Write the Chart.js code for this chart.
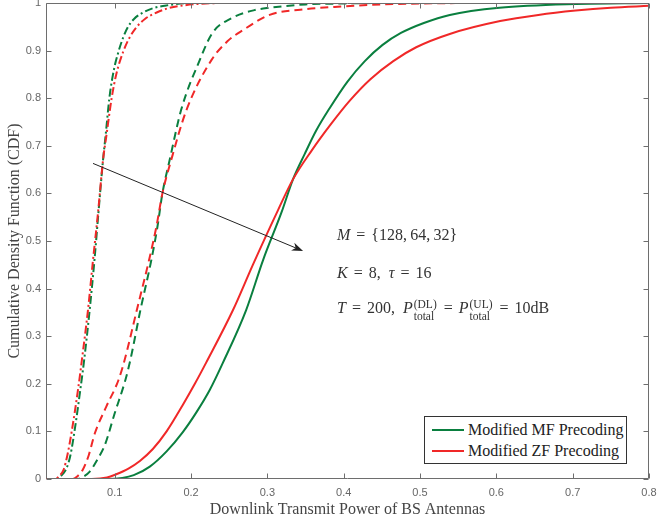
<!DOCTYPE html>
<html><head><meta charset="utf-8">
<script src="https://cdn.jsdelivr.net/npm/chart.js@4/dist/chart.umd.min.js"></script>
<style>
html,body{margin:0;padding:0;background:#fff;}
#wrap{position:relative;width:657px;height:522px;overflow:hidden;}
canvas{position:absolute;left:0;top:0;}
.note{position:absolute;font-family:'Liberation Serif',serif;font-size:16px;line-height:20px;height:20px;color:#333;white-space:nowrap;}
.note i{font-style:italic;}
.note .eq{margin:0 6px;}
.note .cm{margin-right:4px;}
.ss{display:inline-flex;flex-direction:column;vertical-align:5px;font-size:11.5px;line-height:12px;margin-left:1px;margin-right:1px;}
#lg{position:absolute;left:424px;top:416px;width:201px;height:46px;border:1px solid #333;background:#fff;font-family:'Liberation Serif',serif;font-size:16px;color:#222;}
#lg .row{position:absolute;left:0;height:20px;line-height:20px;white-space:nowrap;}
#lg .sw{position:absolute;left:7px;top:9px;width:32px;height:2px;}
#lg .tx{position:absolute;left:43px;top:0;}
</style></head><body>
<div id="wrap">
<canvas id="c" width="657" height="522"></canvas>
<div class="note" style="left:337px;top:225px"><i>M</i><span class="eq">=</span>{128,&thinsp;64,&thinsp;32}</div>
<div class="note" style="left:337px;top:263px"><i>K</i><span class="eq">=</span>8,<span class="cm"></span> <i>τ</i><span class="eq">=</span>16</div>
<div class="note" style="left:337px;top:298px"><i>T</i><span class="eq">=</span>200,<span class="cm"></span> <i>P</i><span class="ss"><span>(DL)</span><span>total</span></span><span class="eq">=</span><i>P</i><span class="ss"><span>(UL)</span><span>total</span></span><span class="eq">=</span>10dB</div>
<div id="lg">
  <div class="row" style="top:3px;width:200px"><div class="sw" style="background:#0a7f3f"></div><span class="tx">Modified MF Precoding</span></div>
  <div class="row" style="top:24px;width:200px"><div class="sw" style="background:#f02828"></div><span class="tx">Modified ZF Precoding</span></div>
</div>
</div>
<script>
// ---- tick values / labels ----
const xTicks = [0.1, 0.2, 0.3, 0.4, 0.5, 0.6, 0.7, 0.8];
const xTickLabels = ['0.1', '0.2', '0.3', '0.4', '0.5', '0.6', '0.7', '0.8'];
const yTicks = [0, 0.1, 0.2, 0.3, 0.4, 0.5, 0.6, 0.7, 0.8, 0.9, 1];
const yTickLabels = ['0', '0.1', '0.2', '0.3', '0.4', '0.5', '0.6', '0.7', '0.8', '0.9', '1'];

// ---- series (M = 128 dash-dot, 64 dashed, 32 solid) ----
const mf128X = [0.01, 0.024, 0.030, 0.037, 0.042, 0.0476, 0.0555, 0.060, 0.0672, 0.0735, 0.079, 0.0847, 0.088, 0.093, 0.099, 0.105, 0.111, 0.1175, 0.125, 0.137, 0.15, 0.168, 0.2, 0.3];
const mf128Y = [0, 0, 0.007, 0.023, 0.05, 0.103, 0.194, 0.25, 0.355, 0.46, 0.565, 0.67, 0.72, 0.80, 0.86, 0.898, 0.927, 0.95, 0.966, 0.98, 0.989, 0.995, 1, 1];
const zf128X = [0.01, 0.022, 0.027, 0.033, 0.038, 0.044, 0.0525, 0.057, 0.065, 0.0716, 0.0785, 0.0847, 0.089, 0.096, 0.102, 0.111, 0.119, 0.129, 0.14, 0.155, 0.17, 0.19, 0.25, 0.35];
const zf128Y = [0, 0, 0.006, 0.019, 0.05, 0.103, 0.194, 0.25, 0.355, 0.46, 0.565, 0.67, 0.72, 0.80, 0.85, 0.897, 0.926, 0.95, 0.967, 0.98, 0.989, 0.995, 1, 1];
const mf64X = [0.01, 0.05, 0.058, 0.067, 0.077, 0.087, 0.100, 0.114, 0.1205, 0.1337, 0.148, 0.156, 0.1625, 0.172, 0.187, 0.2114, 0.228, 0.253, 0.283, 0.303, 0.35, 0.40, 0.45, 0.55];
const mf64Y = [0, 0, 0.004, 0.015, 0.04, 0.071, 0.138, 0.208, 0.25, 0.355, 0.46, 0.53, 0.60, 0.67, 0.775, 0.88, 0.937, 0.968, 0.985, 0.99, 0.997, 0.999, 1, 1];
const zf64X = [0.01, 0.045, 0.052, 0.058, 0.066, 0.074, 0.089, 0.105, 0.113, 0.129, 0.145, 0.1546, 0.1625, 0.174, 0.194, 0.2267, 0.248, 0.268, 0.303, 0.343, 0.403, 0.45, 0.50, 0.56];
const zf64Y = [0, 0, 0.007, 0.019, 0.05, 0.096, 0.152, 0.208, 0.25, 0.355, 0.46, 0.53, 0.60, 0.67, 0.775, 0.88, 0.92, 0.943, 0.975, 0.986, 0.993, 0.997, 0.999, 1];
const mf32X = [0.01, 0.09, 0.11, 0.125, 0.146, 0.168, 0.189, 0.207, 0.2245, 0.242, 0.2722, 0.2944, 0.3185, 0.3337, 0.349, 0.364, 0.382, 0.405, 0.4277, 0.451, 0.475, 0.505, 0.539, 0.604, 0.704, 0.8];
const mf32Y = [0, 0, 0.002, 0.008, 0.026, 0.058, 0.098, 0.14, 0.187, 0.245, 0.355, 0.46, 0.56, 0.63, 0.683, 0.732, 0.78, 0.835, 0.878, 0.912, 0.937, 0.958, 0.975, 0.99, 0.998, 1];
const zf32X = [0.01, 0.07, 0.09, 0.102, 0.118, 0.133, 0.150, 0.168, 0.189, 0.205, 0.220, 0.255, 0.281, 0.314, 0.3337, 0.358, 0.383, 0.408, 0.435, 0.465, 0.495, 0.539, 0.605, 0.655, 0.704, 0.75, 0.8];
const zf32Y = [0, 0, 0.003, 0.01, 0.022, 0.038, 0.063, 0.1, 0.155, 0.2, 0.245, 0.355, 0.45, 0.565, 0.63, 0.69, 0.745, 0.795, 0.84, 0.878, 0.907, 0.935, 0.962, 0.975, 0.984, 0.99, 0.994];

// arrow annotation (data coordinates)
const arrowFrom = [0.0716, 0.663];
const arrowTo = [0.3468, 0.479];

const GREEN = '#0a7f3f', RED = '#f02828';
const DASH = [8, 5], DASHDOT = [8, 3, 2, 3];
const pts = (xs, ys) => xs.map((v, i) => ({x: v, y: ys[i]}));
const ds = (label, xs, ys, color, dash) => ({
  label, data: pts(xs, ys), borderColor: color, backgroundColor: color,
  borderWidth: 2, borderDash: dash, pointRadius: 0, showLine: true, fill: false,
  cubicInterpolationMode: 'monotone'
});

const frame = {
  id: 'frame',
  afterDatasetsDraw(chart) {
    const {ctx, chartArea: a, scales: {x, y}} = chart;
    ctx.save();
    ctx.strokeStyle = '#6e6e6e';
    ctx.lineWidth = 1;
    ctx.setLineDash([]);
    ctx.beginPath();
    const L = Math.round(a.left) + 0.5, R = Math.round(a.right) - 0.5, T = Math.round(a.top) + 0.5, B = Math.round(a.bottom) - 0.5;
    ctx.rect(L, T, R - L, B - T);
    xTicks.forEach(v => {
      const p = Math.round(x.getPixelForValue(v)) + 0.5;
      ctx.moveTo(p, B); ctx.lineTo(p, B - 5);
      ctx.moveTo(p, T); ctx.lineTo(p, T + 5);
    });
    yTicks.forEach(v => {
      const p = Math.round(y.getPixelForValue(v)) + 0.5;
      ctx.moveTo(L, p); ctx.lineTo(L + 5, p);
      ctx.moveTo(R, p); ctx.lineTo(R - 5, p);
    });
    ctx.stroke();
    // arrow
    const x0 = x.getPixelForValue(arrowFrom[0]), y0 = y.getPixelForValue(arrowFrom[1]);
    const x1 = x.getPixelForValue(arrowTo[0]), y1 = y.getPixelForValue(arrowTo[1]);
    const ang = Math.atan2(y1 - y0, x1 - x0);
    ctx.strokeStyle = '#222'; ctx.fillStyle = '#222';
    ctx.beginPath(); ctx.moveTo(x0, y0);
    ctx.lineTo(x1 - 6 * Math.cos(ang), y1 - 6 * Math.sin(ang)); ctx.stroke();
    const hl = 12, hw = 0.36;
    ctx.beginPath();
    ctx.moveTo(x1, y1);
    ctx.lineTo(x1 - hl * Math.cos(ang - hw), y1 - hl * Math.sin(ang - hw));
    ctx.lineTo(x1 - 8 * Math.cos(ang), y1 - 8 * Math.sin(ang));
    ctx.lineTo(x1 - hl * Math.cos(ang + hw), y1 - hl * Math.sin(ang + hw));
    ctx.closePath(); ctx.fill();
    ctx.restore();
  }
};

new Chart(document.getElementById('c'), {
  type: 'scatter',
  data: {
    datasets: [
      ds('ZF M=128', zf128X, zf128Y, RED, DASHDOT),
      ds('MF M=128', mf128X, mf128Y, GREEN, DASHDOT),
      ds('ZF M=64', zf64X, zf64Y, RED, DASH),
      ds('MF M=64', mf64X, mf64Y, GREEN, DASH),
      ds('ZF M=32', zf32X, zf32Y, RED, []),
      ds('MF M=32', mf32X, mf32Y, GREEN, [])
    ]
  },
  options: {
    responsive: false,
    animation: false,
    events: [],
    layout: {padding: {top: 3, right: 8, left: 0, bottom: 0}},
    plugins: {legend: {display: false}, tooltip: {enabled: false}},
    scales: {
      x: {
        type: 'linear', min: 0.01, max: 0.8,
        grid: {display: false, drawTicks: false},
        border: {display: false},
        afterBuildTicks: s => { s.ticks = xTicks.map(v => ({value: v})); },
        afterFit: s => { s.height = 43; s.paddingLeft = 0; s.paddingRight = 0; },
        ticks: {
          padding: 7, autoSkip: false, maxRotation: 0, color: '#666',
          font: {family: "'Liberation Sans', Arial, sans-serif", size: 11},
          callback: (v, i) => xTickLabels[i]
        },
        title: {
          display: true, text: 'Downlink Transmit Power of BS Antennas', color: '#444',
          font: {family: "'Liberation Serif', 'Times New Roman', serif", size: 16},
          padding: {top: 0, bottom: 3}
        }
      },
      y: {
        type: 'linear', min: 0, max: 1,
        grid: {display: false, drawTicks: false},
        border: {display: false},
        afterBuildTicks: s => { s.ticks = yTicks.map(v => ({value: v})); },
        afterFit: s => { s.width = 46; s.paddingTop = 0; s.paddingBottom = 0; },
        ticks: {
          padding: 5, autoSkip: false, color: '#666',
          font: {family: "'Liberation Sans', Arial, sans-serif", size: 11},
          callback: (v, i) => yTickLabels[i]
        },
        title: {
          display: true, text: 'Cumulative Density Function (CDF)', color: '#444',
          font: {family: "'Liberation Serif', 'Times New Roman', serif", size: 16},
          padding: {top: 5, bottom: 0}
        }
      }
    }
  },
  plugins: [frame]
});
</script>
</body></html>
